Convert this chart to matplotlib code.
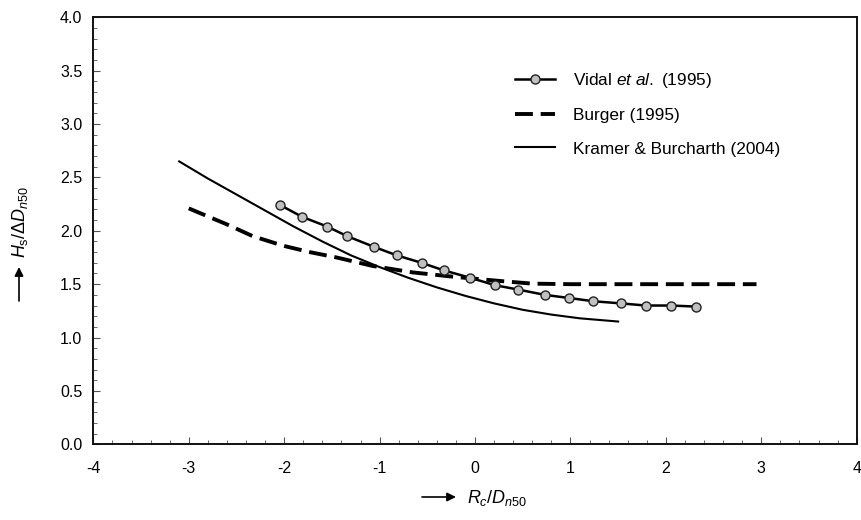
import matplotlib
matplotlib.use("Agg")
import matplotlib.pyplot as plt
from matplotlib.ticker import MultipleLocator, FormatStrFormatter, FuncFormatter

plt.rcParams['font.family'] = ['Liberation Sans', 'DejaVu Sans']
plt.rcParams['mathtext.fontset'] = 'custom'
plt.rcParams['mathtext.rm'] = 'Liberation Sans'
plt.rcParams['mathtext.it'] = 'Liberation Sans:italic'
plt.rcParams['mathtext.bf'] = 'Liberation Sans:bold'

# Vidal et al. (1995)
vidal_x = [-2.04, -1.81, -1.55, -1.34, -1.06, -0.82, -0.56, -0.33, -0.05,
           0.21, 0.45, 0.73, 0.99, 1.24, 1.53, 1.79, 2.05, 2.32]
vidal_y = [2.24, 2.13, 2.04, 1.95, 1.85, 1.77, 1.70, 1.63, 1.56,
           1.49, 1.45, 1.40, 1.37, 1.34, 1.32, 1.30, 1.30, 1.29]

# Burger (1995)
burger_x = [-3.00, -2.60, -2.33, -2.01, -1.73, -1.45, -1.07, -0.65, -0.23, 0.26, 0.60, 1.00, 2.00, 2.95]
burger_y = [2.21, 2.06, 1.95, 1.86, 1.80, 1.75, 1.67, 1.61, 1.57, 1.53, 1.505, 1.50, 1.50, 1.50]

# Kramer & Burcharth (2004)
kramer_x = [-3.1, -2.8, -2.5, -2.2, -1.9, -1.6, -1.3, -1.0, -0.7, -0.4,
            -0.1, 0.2, 0.5, 0.8, 1.1, 1.5]
kramer_y = [2.65, 2.49, 2.34, 2.19, 2.04, 1.90, 1.77, 1.66, 1.56, 1.47,
            1.39, 1.32, 1.26, 1.215, 1.18, 1.15]

labels = ['Vidal $\\mathit{et\\ al.}$ (1995)', 'Burger (1995)', 'Kramer & Burcharth (2004)']

W, H = 861, 520
fig = plt.figure(figsize=(W / 100, H / 100), dpi=100)
ax = fig.add_axes([0.1084, 0.1456, 0.8866, 0.8211])

ax.plot(vidal_x, vidal_y, color='black', lw=1.8, marker='o', ms=6.5,
        markerfacecolor='#c0c0c0', markeredgecolor='#222222', markeredgewidth=1.0,
        label=labels[0], zorder=4)
ax.plot(burger_x, burger_y, color='black', lw=2.8, dashes=(4.6, 2.0),
        label=labels[1], zorder=3)
ax.plot(kramer_x, kramer_y, color='black', lw=1.5, label=labels[2], zorder=3)

ax.set_xlim(-4, 4)
ax.set_ylim(0, 4)
ax.xaxis.set_major_locator(MultipleLocator(1))
ax.xaxis.set_minor_locator(MultipleLocator(0.2))
ax.yaxis.set_major_locator(MultipleLocator(0.5))
ax.yaxis.set_minor_locator(MultipleLocator(0.1))
ax.yaxis.set_major_formatter(FormatStrFormatter('%.1f'))
ax.xaxis.set_major_formatter(FuncFormatter(lambda v, p: '%d' % v if v >= 0 else '-%d' % abs(v)))
ax.tick_params(which='both', direction='in', labelsize=11.5, color='#555555')
ax.tick_params(axis='y', which='major', length=5, width=0.8, pad=8)
ax.tick_params(axis='x', which='major', length=5, width=0.8, pad=12)
ax.tick_params(which='minor', length=3, width=0.6)
for s in ax.spines.values():
    s.set_linewidth(1.4)
    s.set_color('#111111')

def fx(px):
    return px / W

def fy(py):
    return 1 - py / H

# x label with arrow
fig.text(fx(467), fy(498), '$R_c/D_{n\\mathrm{50}}$', fontsize=13, ha='left', va='center')
ax.annotate('', xy=(fx(456), fy(497)), xytext=(fx(422), fy(497)), xycoords='figure fraction',
            textcoords='figure fraction',
            arrowprops=dict(arrowstyle='-|>', color='black', lw=1.2, mutation_scale=13,
                            shrinkA=0, shrinkB=0))
# y label with arrow
fig.text(fx(20), fy(258), '$H_\\mathrm{s}/\\mathit{\\Delta D}_{n\\mathrm{50}}$', fontsize=13,
         rotation=90, ha='center', va='bottom')
ax.annotate('', xy=(fx(19), fy(267)), xytext=(fx(19), fy(301)), xycoords='figure fraction',
            textcoords='figure fraction',
            arrowprops=dict(arrowstyle='-|>', color='black', lw=1.2, mutation_scale=13,
                            shrinkA=0, shrinkB=0))

leg = ax.legend(loc='upper left', bbox_to_anchor=(0.532, 0.91), frameon=False,
                fontsize=12.4, handlelength=2.3, handletextpad=1.1, labelspacing=1.05)

fig.savefig('out.png', dpi=100)
